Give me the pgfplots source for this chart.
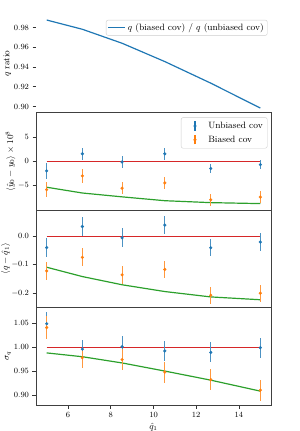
\documentclass[border=0pt]{standalone}
\usepackage{pgfplots}
\pgfplotsset{compat=1.18}
\usepgfplotslibrary{groupplots}
\definecolor{tabblue}{HTML}{1F77B4}
\definecolor{taborange}{HTML}{FF7F0E}
\definecolor{tabgreen}{HTML}{2CA02C}
\definecolor{tabred}{HTML}{D62728}
\begin{document}
\begin{tikzpicture}
\pgfplotsset{
  errlegend/.style={legend image code/.code={
    \path[draw=none, fill=none] (-0.05cm,0cm) rectangle (0.75cm,0.01cm);
    \draw[##1,mark=none,line width=1.2pt] (0.35cm,-0.16cm)--(0.35cm,0.16cm);
    \draw[##1] plot coordinates {(0.35cm,0cm)};
  }},
  refline/.style={draw=tabred, color=tabred, line width=1.2pt, mark=none},
  fitline/.style={color=tabgreen, line width=1.2pt, mark=none},
  ptsblue/.style={color=tabblue, only marks, mark=*, mark size=1.4pt,
    error bars/y dir=both, error bars/y explicit,
    error bars/error bar style={line width=1.2pt, tabblue!80}, error bars/error mark=none},
  ptsorange/.style={color=taborange, only marks, mark=*, mark size=1.4pt,
    error bars/y dir=both, error bars/y explicit,
    error bars/error bar style={line width=1.2pt, taborange!80}, error bars/error mark=none},
}
\begin{groupplot}[
  group style={group size=1 by 4, vertical sep=0pt,
    xticklabels at=edge bottom, x descriptions at=edge bottom},
  scale only axis, width=235bp, height=97.5bp,
  xmin=4.5, xmax=15.5,
  xtick={6,8,10,12,14},
  tick align=outside, xtick pos=bottom, ytick pos=left,
  major tick length=3.5bp,
  axis line style={black!75, line width=0.8pt},
  tick style={black!80, line width=0.6pt},
  tick label style={font=\fontsize{8.5}{10}\selectfont},
  label style={font=\fontsize{9}{11}\selectfont},
  ylabel shift=-4pt,
  xlabel style={yshift=1pt},
  legend cell align=left,
  legend style={draw=black!20, rounded corners=2pt, font=\fontsize{9.2}{11}\selectfont,
    at={(0.985,0.97)}, anchor=north east, inner sep=1.5pt},
]
% Panel 1
\nextgroupplot[ymin=0.8939, ymax=0.9929, ytick={0.90,0.92,0.94,0.96,0.98},
  yticklabel style={/pgf/number format/fixed, /pgf/number format/fixed zerofill, /pgf/number format/precision=2},
  ylabel={$q$ ratio}, x axis line style={draw=none},
  xtick style={draw=none}, legend style={at={(0.985,0.95)}}]
\addplot[color=tabblue, line width=1.2pt, mark=none] coordinates {(5,0.9878) (6.67,0.9784) (8.53,0.9642) (10.53,0.9456) (12.68,0.9237) (15,0.8984)};
\addlegendentry{$q$ (biased cov) / $q$ (unbiased cov)}
% Panel 2
\nextgroupplot[ymin=-10.13, ymax=10.13, ytick={-5,0,5},
  ylabel={$\langle \hat{y}_0 - y_0\rangle \times 10^8$}, xtick style={draw=none}, legend style={at={(0.985,0.95)}, row sep=2pt, inner sep=2.5pt}]
\addplot[fitline, forget plot] coordinates {(5,-5.4) (6.67,-6.6) (8.53,-7.4) (10.53,-8.2) (12.68,-8.6) (15,-8.8)};
\addplot[refline, forget plot] coordinates {(5,0) (15,0)};
\addplot[ptsblue, errlegend] table[x=x, y=y, y error=e] {
  x y e
  5 -2.0 1.6
  6.67 1.55 1.25
  8.53 -0.15 1.3
  10.53 1.55 1.2
  12.68 -1.5 1.0
  15 -0.7 1.0
};
\addlegendentry{Unbiased cov}
\addplot[ptsorange, errlegend] table[x=x, y=y, y error=e] {
  x y e
  5 -5.9 1.55
  6.67 -3.05 1.4
  8.53 -5.6 1.3
  10.53 -4.5 1.25
  12.68 -8.0 1.2
  15 -7.45 1.2
};
\addlegendentry{Biased cov}
% Panel 3
\nextgroupplot[ymin=-0.2514, ymax=0.0934, ytick={-0.2,-0.1,0},
  yticklabel style={/pgf/number format/fixed, /pgf/number format/fixed zerofill, /pgf/number format/precision=1},
  ylabel={$\langle q - \hat{q}_1\rangle$}, ylabel shift=-5.5pt, xtick style={draw=none}]
\addplot[fitline] coordinates {(5,-0.109) (6.67,-0.142) (8.53,-0.171) (10.53,-0.195) (12.68,-0.214) (15,-0.224)};
\addplot[refline] coordinates {(5,0) (15,0)};
\addplot[ptsblue] table[x=x, y=y, y error=e] {
  x y e
  5 -0.0395 0.035
  6.67 0.035 0.033
  8.53 -0.005 0.033
  10.53 0.040 0.033
  12.68 -0.040 0.030
  15 -0.020 0.031
};
\addplot[ptsorange] table[x=x, y=y, y error=e] {
  x y e
  5 -0.122 0.033
  6.67 -0.074 0.032
  8.53 -0.136 0.032
  10.53 -0.117 0.030
  12.68 -0.208 0.030
  15 -0.201 0.030
};
% Panel 4
\nextgroupplot[ymin=0.879, ymax=1.083, ytick={0.90,0.95,1.00,1.05},
  yticklabel style={/pgf/number format/fixed, /pgf/number format/fixed zerofill, /pgf/number format/precision=2},
  ylabel={$\sigma_q$}, xlabel={$\hat{q}_1$}]
\addplot[fitline] coordinates {(5,0.988) (6.67,0.980) (8.53,0.967) (10.53,0.950) (12.68,0.931) (15,0.908)};
\addplot[refline] coordinates {(5,1) (15,1)};
\addplot[ptsblue] table[x=x, y=y, y error=e] {
  x y e
  5 1.049 0.025
  6.67 0.996 0.020
  8.53 1.001 0.022
  10.53 0.992 0.021
  12.68 0.989 0.021
  15 0.999 0.021
};
\addplot[ptsorange] table[x=x, y=y, y error=e] {
  x y e
  5 1.041 0.024
  6.67 0.978 0.021
  8.53 0.974 0.022
  10.53 0.948 0.022
  12.68 0.932 0.022
  15 0.910 0.022
};
\end{groupplot}
\pgfresetboundingbox
\path[use as bounding box] ([xshift=-36bp,yshift=15bp]group c1r1.north west) rectangle ([xshift=28bp,yshift=-26bp]group c1r4.south east);
\end{tikzpicture}
\end{document}
